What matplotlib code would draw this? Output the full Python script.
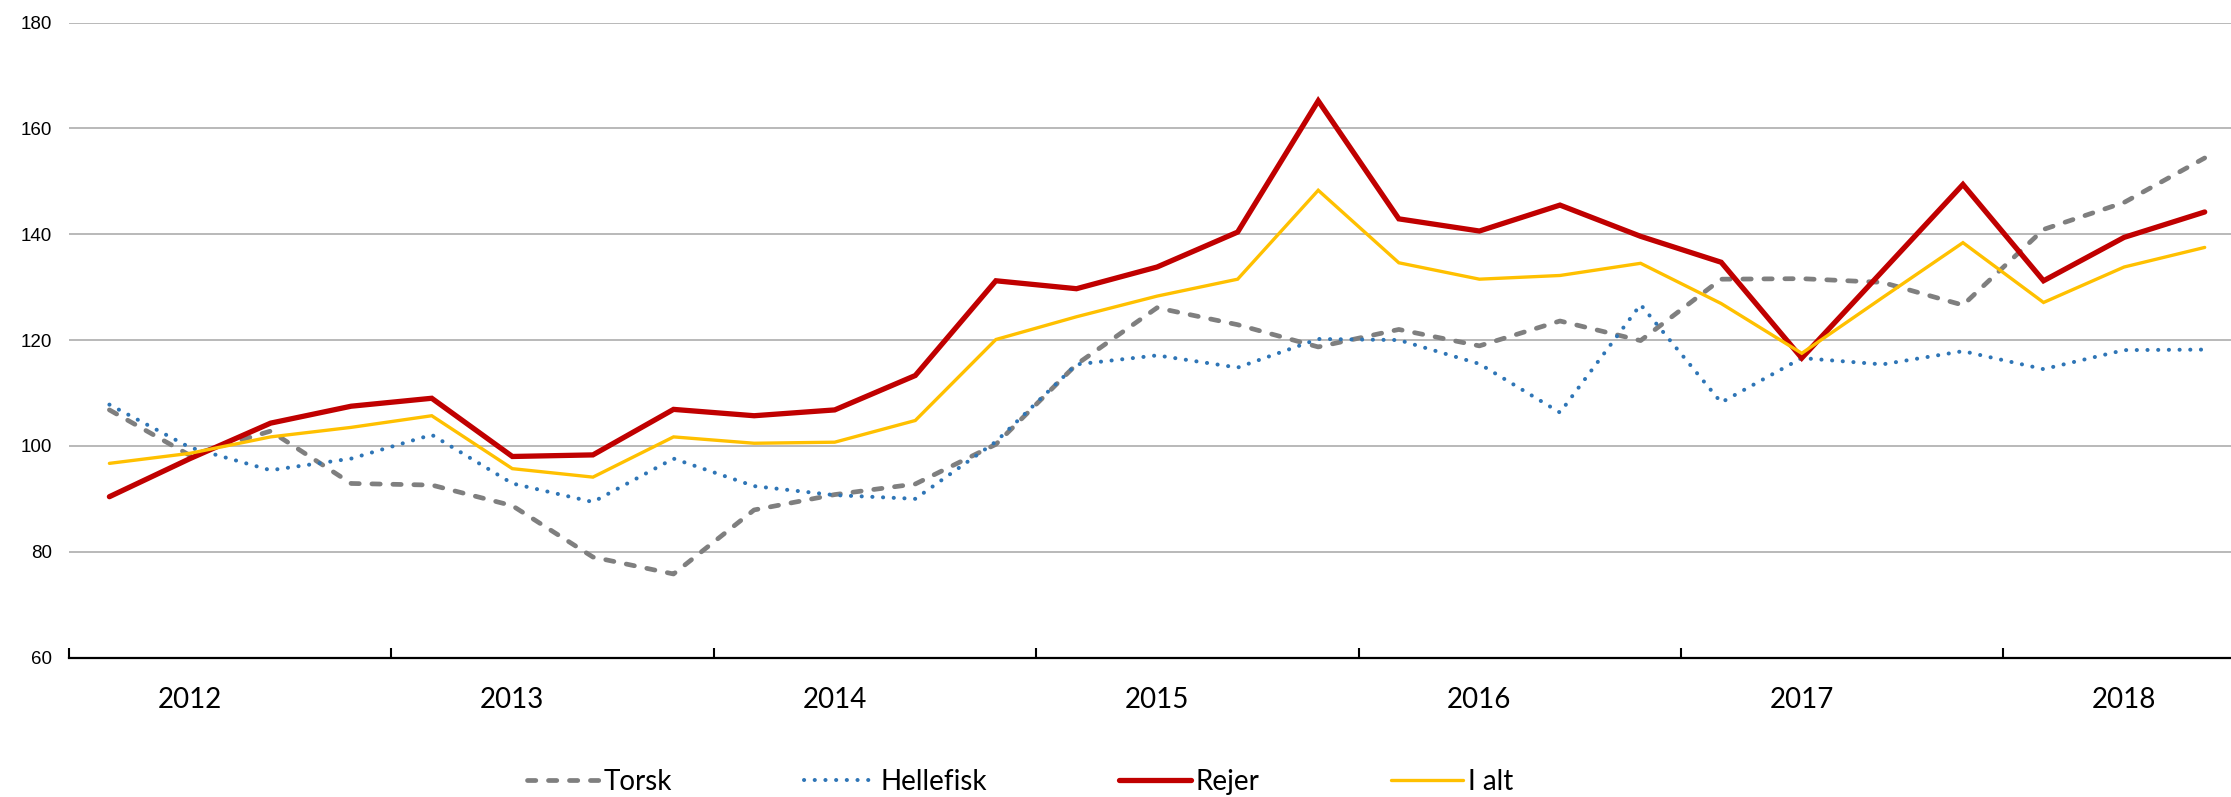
import matplotlib
matplotlib.use("Agg")
import matplotlib.pyplot as plt
from matplotlib.ticker import FixedLocator, NullFormatter

plt.rcParams['lines.scale_dashes'] = False

years = ["2012", "2013", "2014", "2015", "2016", "2017", "2018"]
series_names = ["Torsk", "Hellefisk", "Rejer", "I alt"]

torsk = [106.8, 98.2, 102.8, 92.9, 92.6, 88.7, 79.0, 75.8, 87.9, 90.8, 92.8, 100.3,
         115.4, 126.1, 122.9, 118.7, 122.0, 118.9, 123.6, 119.9, 131.5, 131.6, 130.9,
         126.6, 140.9, 146.0, 154.4]
hellefisk = [107.8, 99.7, 95.4, 97.6, 102.1, 92.9, 89.4, 97.6, 92.4, 90.7, 90.0, 100.8,
             115.4, 117.1, 114.8, 120.2, 120.0, 115.5, 106.3, 126.7, 108.2, 116.6, 115.4,
             117.9, 114.5, 118.1, 118.2]
rejer = [90.4, 97.6, 104.3, 107.5, 109.0, 98.0, 98.3, 106.9, 105.7, 106.8, 113.3, 131.2,
         129.7, 133.8, 140.4, 165.2, 142.9, 140.6, 145.5, 139.6, 134.7, 116.6, 133.0,
         149.4, 131.2, 139.4, 144.2]
i_alt = [96.7, 98.6, 101.7, 103.5, 105.7, 95.7, 94.1, 101.7, 100.5, 100.7, 104.8, 120.1,
         124.4, 128.3, 131.5, 148.3, 134.6, 131.5, 132.2, 134.5, 126.9, 117.5, 128.0,
         138.4, 127.1, 133.8, 137.5]

n = len(rejer)
x = list(range(n))

W, H = 2231, 797
fig = plt.figure(figsize=(W / 100, H / 100), dpi=100)
left = 69.1 / W
bottom = (H - 657.6) / H
top = (H - 22.5) / H
ax = fig.add_axes([left, bottom, (2245 - 69.1) / W, top - bottom])

ax.plot(x, torsk, color="#7F7F7F", lw=3.4, dashes=(6.0, 9.1),
        dash_capstyle="round", solid_capstyle="round", label=series_names[0], zorder=3)
ax.plot(x, hellefisk, color="#2E75B6", lw=2.9, dashes=(0.1, 7.6),
        dash_capstyle="round", label=series_names[1], zorder=3)
ax.plot(x, rejer, color="#C00000", lw=3.8, solid_capstyle="round",
        solid_joinstyle="miter", label=series_names[2], zorder=3)
ax.plot(x, i_alt, color="#FFC000", lw=2.4, solid_capstyle="round",
        solid_joinstyle="miter", label=series_names[3], zorder=3)

ax.set_xlim(-0.5, n - 0.5)
ax.set_ylim(60, 180)

# y axis
ax.set_yticks(range(60, 181, 20))
ax.set_yticklabels([str(v) for v in range(60, 181, 20)],
                   fontfamily="Liberation Sans", fontsize=13.5)
ax.tick_params(axis="y", length=0, pad=12.3)
for v in range(80, 181, 20):
    ax.axhline(v, color="#A6A6A6", lw=1.1, zorder=1)

# x axis: tick marks at year boundaries, labels under 2nd quarter of each year
ax.xaxis.set_major_locator(FixedLocator([-0.5 + 4 * k for k in range(len(years))]))
ax.xaxis.set_major_formatter(NullFormatter())
ax.tick_params(axis="x", which="major", direction="in", length=7, width=1.5,
               color="black")
ax.set_xticks([1 + 4 * k for k in range(len(years))], minor=True)
ax.set_xticklabels(years, minor=True, fontfamily="Lato", fontsize=20)
ax.tick_params(axis="x", which="minor", length=0, pad=21)

for s in ["left", "right", "top"]:
    ax.spines[s].set_visible(False)
ax.spines["bottom"].set_linewidth(1.6)
ax.spines["bottom"].set_color("black")

leg = fig.legend(loc="center", bbox_to_anchor=(1020 / W, 15 / H), ncol=4,
                 frameon=False, prop={"family": "Lato", "size": 20},
                 handlelength=2.6, handletextpad=0.15, columnspacing=4.75,
                 borderpad=0)

fig.savefig("out.png", dpi=100)
